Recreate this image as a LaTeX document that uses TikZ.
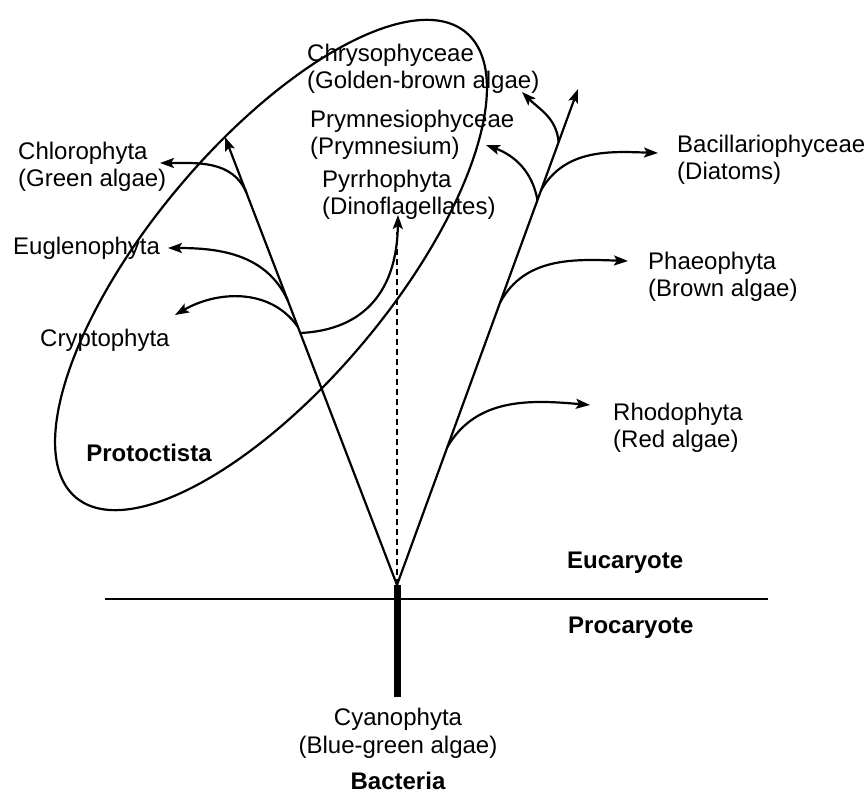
\documentclass[tikz,border=0pt]{standalone}
\usepackage{fontspec}
\setmainfont{Liberation Sans}
\usetikzlibrary{arrows.meta,calc}
\begin{document}
\begin{tikzpicture}[x=1pt,y=1pt,
  lbl/.style={inner sep=0pt, anchor=west, align=left, font=\fontsize{24}{27}\selectfont},
  clbl/.style={inner sep=0pt, align=center, font=\fontsize{24}{28}\selectfont},
  blbl/.style={inner sep=0pt, font=\fontsize{24}{27}\selectfont\bfseries},
  ln/.style={line width=2.2pt},
  arr/.style={ln, -{Stealth[length=14pt,width=10pt,inset=3pt]}},
]
\useasboundingbox (0,0) rectangle (868,-794);

% main stems
\coordinate (O) at (397,-585);
\coordinate (L) at (225,-137);
\coordinate (R) at (578,-89);
\coordinate (barEnd) at (397,-697);

% protoctista ellipse
\draw[ln, rotate around={50:(271,-265)}] (271,-265) ellipse [x radius=303.5, y radius=120.7];

% horizontal divide and bacteria bar
\coordinate (hL) at (105,-599);
\coordinate (hR) at (768,-599);
\draw[ln] (hL) -- (hR);
\draw[line width=7pt] (O) -- (barEnd);

% stems
\draw[arr] (O) -- (L);
\draw[arr] (O) -- (R);

% branch points
\coordinate (bChl) at ($(O)!0.875!(L)$);
\coordinate (bEug) at ($(O)!0.636!(L)$);
\coordinate (bCry) at ($(O)!0.576!(L)$);
\coordinate (bDin) at ($(O)!0.5625!(L)$);
\coordinate (bRho) at ($(O)!0.278!(R)$);
\coordinate (bPha) at ($(O)!0.569!(R)$);
\coordinate (bBac) at ($(O)!0.796!(R)$);
\coordinate (bPry) at ($(O)!0.776!(R)$);
\coordinate (bChr) at ($(O)!0.893!(R)$);

% arrow tips
\coordinate (tChl) at (160,-163);
\coordinate (tEug) at (168,-248);
\coordinate (tCry) at (175,-315);
\coordinate (tDin) at (398,-215);
\coordinate (dTop) at (397,-232);
\coordinate (tRho) at (590,-405);
\coordinate (tPha) at (628,-261);
\coordinate (tBac) at (658,-153);
\coordinate (tPry) at (486,-145);
\coordinate (tChr) at (522,-92);

% left branches
\draw[arr] (bChl) to[out=112,in=0] (tChl);
\draw[arr] (bEug) to[out=115,in=0] (tEug);
\draw[arr] (bCry) to[out=125,in=30] (tCry);
\draw[arr] (bDin) .. controls (365,-330) and (397,-290) .. (tDin);
\draw[ln, dash pattern=on 6pt off 4pt] (O) -- (dTop);

% right branches
\draw[arr] (bRho) to[out=60,in=175] (tRho);
\draw[arr] (bPha) to[out=62,in=178] (tPha);
\draw[arr] (bBac) to[out=60,in=178] (tBac);
\draw[arr] (bPry) to[out=100,in=-20] (tPry);
\draw[arr] (bChr) to[out=95,in=-45] (tChr);

% labels
\node[lbl] (chl) at (18,-166.5) {Chlorophyta\\(Green algae)};
\node[lbl] (eug) at (13,-248) {Euglenophyta};
\node[lbl] (cry) at (40,-340) {Cryptophyta};
\node[lbl] (chr) at (307,-68.5) {Chrysophyceae\\(Golden-brown algae)};
\node[lbl] (pry) at (310,-134.5) {Prymnesiophyceae\\(Prymnesium)};
\node[lbl] (din) at (322,-194.5) {Pyrrhophyta\\(Dinoflagellates)};
\node[lbl] (bac) at (677,-159.5) {Bacillariophyceae\\(Diatoms)};
\node[lbl] (pha) at (648,-276.5) {Phaeophyta\\(Brown algae)};
\node[lbl] (rho) at (613,-427.5) {Rhodophyta\\(Red algae)};
\node[clbl] (cya) at (398,-733) {Cyanophyta\\(Blue-green algae)};
\node[blbl] (bact) at (398,-781) {Bacteria};
\node[blbl] (prot) at (149,-453) {Protoctista};
\node[blbl, anchor=west] (euc) at (567,-563) {Eucaryote};
\node[blbl, anchor=west] (pro) at (568,-628) {Procaryote};
\end{tikzpicture}
\end{document}
